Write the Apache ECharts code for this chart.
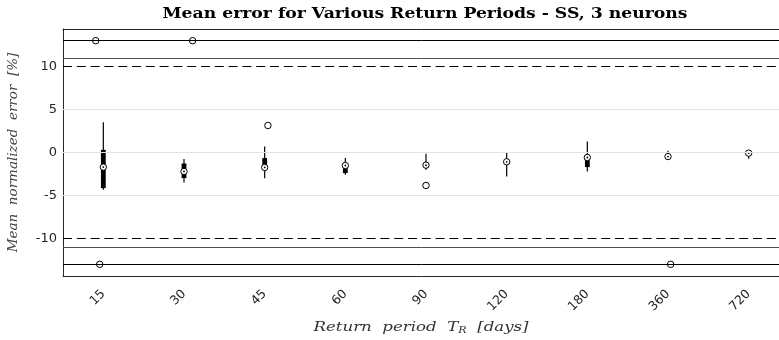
<!DOCTYPE html>
<html>
<head>
<meta charset="utf-8">
<script src="https://cdn.jsdelivr.net/npm/echarts@6/dist/echarts.min.js"></script>
<style>
  html, body { margin: 0; padding: 0; background: #fff; }
  #chart { width: 779px; height: 340px; }
</style>
</head>
<body>
<div id="chart"></div>
<script>
// Return periods (days)
const categories = ['15', '30', '45', '60', '90', '120', '180', '360', '720'];

// Box statistics of mean normalized error [%] per return period
const whiskerLow  = [-4.34, -3.49, -2.98, -2.59, -2.00, -2.79, -2.20, -0.70, -0.73];
const q1          = [-4.14, -2.98, -1.90, -2.40, -1.75, -1.30, -1.70, -0.60, -0.25];
const medians     = [-1.70, -2.21, -1.74, -1.51, -1.47, -1.08, -0.58, -0.47, -0.07];
const q3          = [ 0.31, -1.28, -0.65, -1.30, -1.20, -0.85, -0.35, -0.35,  0.00];
const whiskerHigh = [ 3.53, -0.77,  0.70, -0.65, -0.15,  0.00,  1.28,  0.20,  0.05];

// Outliers: category index, value, horizontal jitter (in category units)
const outlierCat    = [0, 0, 1, 2, 4, 7];
const outlierVal    = [13, -13, 13, 3.14, -3.83, -13];
const outlierJitter = [-0.094, -0.045, 0.107, 0.04, 0.0, 0.033];

// Reference lines
const limitLines    = [10, -10];  // dashed tolerance band
const dataLimLines  = [11, -11];  // data limits
const compressLines = [13, -13];  // compressed outlier positions
const gridValues    = [-10, -5, 0, 5, 10];

const boxData = categories.map((c, i) => [i, whiskerLow[i], q1[i], medians[i], q3[i], whiskerHigh[i]]);
const outlierData = outlierCat.map((c, k) => [c + outlierJitter[k], outlierVal[k]]);

const chart = echarts.init(document.getElementById('chart'), null, { renderer: 'canvas' });

const axisColor = '#262626';
const labelFont = 'DejaVu Sans';

function renderBox(params, api) {
  const x = api.value(0);
  const pLow = api.coord([x, api.value(1)]);
  const pQ1 = api.coord([x, api.value(2)]);
  const pMed = api.coord([x, api.value(3)]);
  const pQ3 = api.coord([x, api.value(4)]);
  const pHigh = api.coord([x, api.value(5)]);
  const boxW = 4.8;
  return {
    type: 'group',
    children: [
      { type: 'line', shape: { x1: pHigh[0], y1: pHigh[1], x2: pLow[0], y2: pLow[1] },
        style: { stroke: '#000', lineWidth: 1.2 } },
      { type: 'rect', shape: { x: pQ3[0] - boxW / 2, y: pQ3[1], width: boxW, height: pQ1[1] - pQ3[1] },
        style: { fill: '#000' } },
      { type: 'circle', shape: { cx: pMed[0], cy: pMed[1], r: 3.2 },
        style: { fill: '#fff', stroke: '#000', lineWidth: 1 } },
      { type: 'circle', shape: { cx: pMed[0], cy: pMed[1], r: 0.9 },
        style: { fill: '#000' } }
    ]
  };
}

function hLines(values, color, width, type) {
  return values.map(v => ({ yAxis: v, lineStyle: { color: color, width: width, type: type } }));
}

const option = {
  animation: false,
  backgroundColor: '#fff',
  grid: { left: 63, top: 29, right: -10, bottom: 64, outerBoundsMode: 'none', containLabel: false },
  graphic: [{
    // chart title
    type: 'text',
    x: 425, y: 14,
    scaleX: 1.23,
    style: {
      text: 'Mean error for Various Return Periods - SS, 3 neurons',
      font: 'bold 14px "DejaVu Serif"',
      fill: '#000',
      textAlign: 'center',
      textVerticalAlign: 'middle'
    }
  }, {
    // x-axis title with subscript
    type: 'text',
    x: 421, y: 327,
    scaleX: 1.23,
    style: {
      text: '{t|Return  period  T}{s|R}{t|  [days]}',
      textAlign: 'center',
      textVerticalAlign: 'middle',
      rich: {
        t: { fontFamily: 'DejaVu Serif', fontStyle: 'italic', fontSize: 13.5, fill: '#333' },
        s: { fontFamily: 'DejaVu Serif', fontStyle: 'italic', fontSize: 9, fill: '#333', padding: [7, 0, 0, 0] }
      }
    }
  }],
  xAxis: [{
    type: 'value',
    min: -0.5, max: 8.5,
    position: 'bottom',
    axisLine: { show: true, onZero: false, lineStyle: { color: axisColor, width: 1 } },
    axisTick: { show: false },
    splitLine: { show: false },
    axisLabel: {
      customValues: categories.map((c, i) => i),
      formatter: v => categories[Math.round(v)],
      rotate: 45,
      margin: 16,
      color: axisColor,
      fontFamily: labelFont,
      fontSize: 12.5
    }
  }, {
    type: 'value',
    min: -0.5, max: 8.5,
    position: 'top',
    axisLine: { show: true, onZero: false, lineStyle: { color: axisColor, width: 1 } },
    axisTick: { show: false },
    axisLabel: { show: false },
    splitLine: { show: false }
  }],
  yAxis: {
    type: 'value',
    min: -14.36, max: 14.36,
    axisLine: { show: true, onZero: false, lineStyle: { color: axisColor, width: 1 } },
    axisTick: { show: true, inside: true, length: 5, customValues: gridValues, lineStyle: { color: axisColor } },
    splitLine: { show: false },
    axisLabel: {
      customValues: gridValues,
      margin: 6,
      color: axisColor,
      fontFamily: labelFont,
      fontSize: 13
    },
    name: 'Mean  normalized  error  [%]',
    nameLocation: 'middle',
    nameGap: 43,
    nameTextStyle: { fontFamily: 'DejaVu Serif', fontStyle: 'italic', fontSize: 13.5, color: '#444' }
  },
  series: [{
    // background grid lines
    type: 'line',
    data: [],
    z: 1,
    silent: true,
    markLine: {
      silent: true, symbol: 'none', label: { show: false },
      data: hLines([-5, 0, 5], '#e3e3e3', 1, 'solid')
    }
  }, {
    // reference lines
    type: 'line',
    data: [],
    z: 2,
    silent: true,
    markLine: {
      silent: true, symbol: 'none', label: { show: false },
      data: []
        .concat(hLines(limitLines, '#000', 1, [9, 4.8]))
        .concat(hLines(dataLimLines, '#4d4d4d', 1, 'solid'))
        .concat(hLines(compressLines, '#000', 1, 'solid'))
    }
  }, {
    type: 'custom',
    z: 3,
    renderItem: renderBox,
    encode: { x: 0, y: [1, 2, 3, 4, 5] },
    data: boxData
  }, {
    type: 'scatter',
    z: 4,
    symbol: 'circle',
    symbolSize: 6.5,
    itemStyle: { color: '#fff', borderColor: '#000', borderWidth: 1, opacity: 1 },
    data: outlierData
  }]
};

chart.setOption(option);
</script>
</body>
</html>
